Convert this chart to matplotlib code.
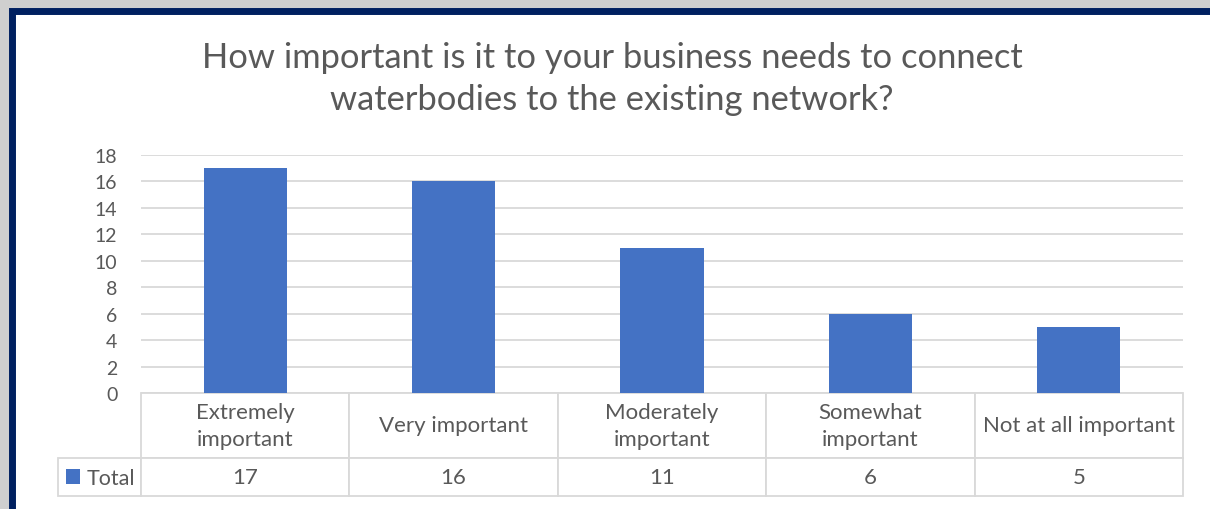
import matplotlib
matplotlib.use('Agg')
import matplotlib.pyplot as plt
from matplotlib.patches import Rectangle
from matplotlib.table import Table

# Data
categories = ["Extremely\nimportant", "Very important", "Moderately\nimportant",
              "Somewhat\nimportant", "Not at all important"]
totals = [17, 16, 11, 6, 5]
series_name = "Total"
y_ticks = [0, 2, 4, 6, 8, 10, 12, 14, 16, 18]
title = ("How important is it to your business needs to connect\n"
         "waterbodies to the existing network?")

plt.rcParams['font.family'] = ['Lato', 'DejaVu Sans']
grey = '#595959'
blue = '#4472C4'
rule = '#D9D9D9'
navy = '#002060'

W, H = 1210, 510
fig = plt.figure(figsize=(12.1, 5.1), dpi=100, facecolor='#cfcfcf')

# white chart area with the navy frame (cut off at right and bottom)
frame = Rectangle((12 / W, -10 / H), (W + 10 - 12) / W, 1 - 11.5 / H + 10 / H,
                  transform=fig.transFigure, facecolor='white',
                  edgecolor=navy, lw=5.0, zorder=0)
fig.add_artist(frame)

fig.text(612 / W, 1 - 79 / H, title, ha='center', va='center',
         fontsize=24.8, color=grey, linespacing=1.38)

# plot area
left, right, top, zero = 141, 1183, 156, 394
aw, ah = right - left, zero - top
ax = fig.add_axes([left / W, (H - zero) / H, aw / W, ah / H])
ax.set_facecolor('none')
x = range(len(totals))
bars = ax.bar(x, totals, width=0.4, color=blue, label=series_name, zorder=2)
ax.set_xlim(-0.5, len(totals) - 0.5)
ax.set_ylim(0, 18)
ax.set_yticks(y_ticks)
ax.yaxis.grid(True, color=rule, lw=1.3)
ax.set_axisbelow(True)
ax.tick_params(axis='y', length=0, pad=17, labelsize=14, labelcolor=grey)
ax.set_xticks([])
for s in ax.spines.values():
    s.set_visible(False)

# data table under the plot (sizes in axes fractions)
head_h, val_h = 65 / ah, 38 / ah
colw = 1 / len(categories)
tbl = Table(ax, bbox=[0, -(head_h + val_h), 1, head_h + val_h])
for i, cat in enumerate(categories):
    tbl.add_cell(0, i, width=colw, height=head_h, text=cat, loc='center')
tbl.add_cell(1, -1, width=(left - 58) / aw, height=val_h, text='', loc='right')
for i, v in enumerate(totals):
    tbl.add_cell(1, i, width=colw, height=val_h, text=str(v), loc='center')
tbl.auto_set_font_size(False)
tbl.set_fontsize(16)
for cell in tbl.get_celld().values():
    cell.set_edgecolor(rule)
    cell.set_linewidth(1.3)
    cell.get_text().set_color(grey)
    cell.get_text().set_linespacing(1.45)
ax.add_table(tbl)

# legend key sits in the row label cell
ax.legend(handles=[bars], loc='center left',
          bbox_to_anchor=((66 - left) / aw, (zero - 479) / ah),
          frameon=False, fontsize=15.5, handlelength=0.66, handleheight=0.66,
          handletextpad=0.3, borderpad=0, borderaxespad=0, labelcolor=grey)

fig.savefig('out.png', dpi=100, facecolor=fig.get_facecolor())
